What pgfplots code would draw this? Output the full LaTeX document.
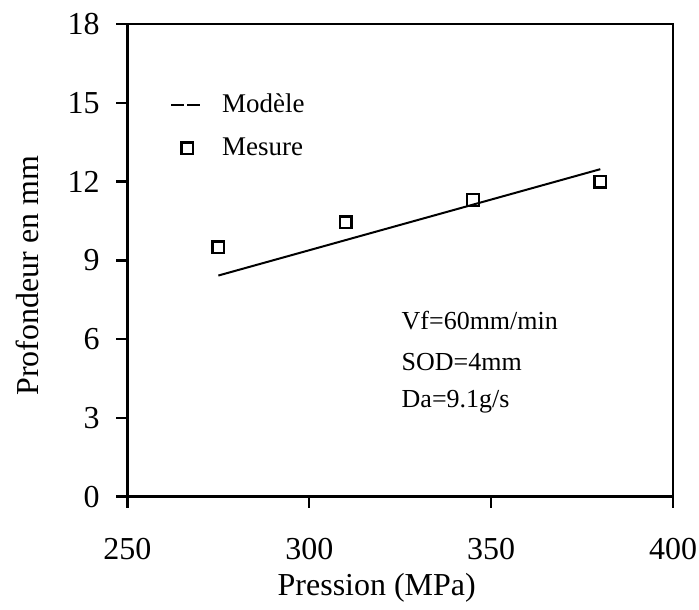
\documentclass[border=0pt]{standalone}
\usepackage{fontspec}
\setmainfont{Liberation Serif}
\usepackage{pgfplots}
\pgfplotsset{compat=1.18}
\begin{document}
\begin{tikzpicture}
\begin{axis}[
  name=ax,
  scale only axis,
  width=273pt, height=236.5pt,
  xmin=250, xmax=400, ymin=0, ymax=18,
  xtick={250,300,350,400}, ytick={0,3,6,9,12,15,18},
  tick align=outside,
  major tick length=5.5pt,
  axis line style={line width=1.2pt},
  every tick/.style={line width=1.2pt, black},
  xtick pos=bottom, ytick pos=left,
  /pgf/number format/assume math mode=true,
  tick label style={font=\fontsize{16}{18}\selectfont},
  xticklabel style={anchor=north, inner sep=0pt, yshift=-15pt},
  yticklabel style={anchor=east, inner sep=0pt, xshift=-8.25pt},
  xlabel={Pression (MPa)},
  ylabel={Profondeur en mm},
  every axis x label/.style={at={([xshift=-11.75pt,yshift=-49.5pt]axis description cs:0.5,0)}, anchor=base, font=\fontsize{16}{18}\selectfont},
  every axis y label/.style={at={([xshift=-50pt,yshift=-7.7pt]axis description cs:0,0.5)}, anchor=center, rotate=90, font=\fontsize{16}{18}\selectfont},
  legend style={at={(axis cs:261.75,15.5)}, anchor=north west, draw=none, fill=none,
    font=\fontsize{13.5}{16}\selectfont, row sep=7pt, inner sep=0pt},
  legend cell align=left,
  clip=false,
]
\addplot[black, line width=1pt,
  legend image code/.code={\draw[black, line width=0.6pt, dash pattern=on 6.5pt off 1.5pt] (0pt,0pt) -- (15pt,0pt); \path (23pt,0pt);}]
  coordinates {(275,8.42) (380,12.47)};
\addlegendentry{Modèle}
\addplot[only marks, mark=square, mark size=2.9pt, mark options={black, line width=1.2pt},
  legend image code/.code={\draw[black, line width=0.9pt] plot[mark=square, mark size=2.9pt] coordinates {(8pt,0pt)}; \path (0pt,0pt) (23pt,0pt);}]
  coordinates {(275,9.5) (310,10.45) (345,11.3) (380,12.0)};
\addlegendentry{Mesure}
\node[anchor=base west, inner sep=0pt, font=\fontsize{13}{15}\selectfont] at (axis cs:325.3,6.35) {Vf=60mm/min};
\node[anchor=base west, inner sep=0pt, font=\fontsize{13}{15}\selectfont] at (axis cs:325.3,4.79) {SOD=4mm};
\node[anchor=base west, inner sep=0pt, font=\fontsize{13}{15}\selectfont] at (axis cs:325.3,3.39) {Da=9.1g/s};
\end{axis}
\path ([xshift=-63.75pt,yshift=-56.5pt]ax.south west) rectangle ([xshift=13pt,yshift=12pt]ax.north east);
\end{tikzpicture}
\end{document}
